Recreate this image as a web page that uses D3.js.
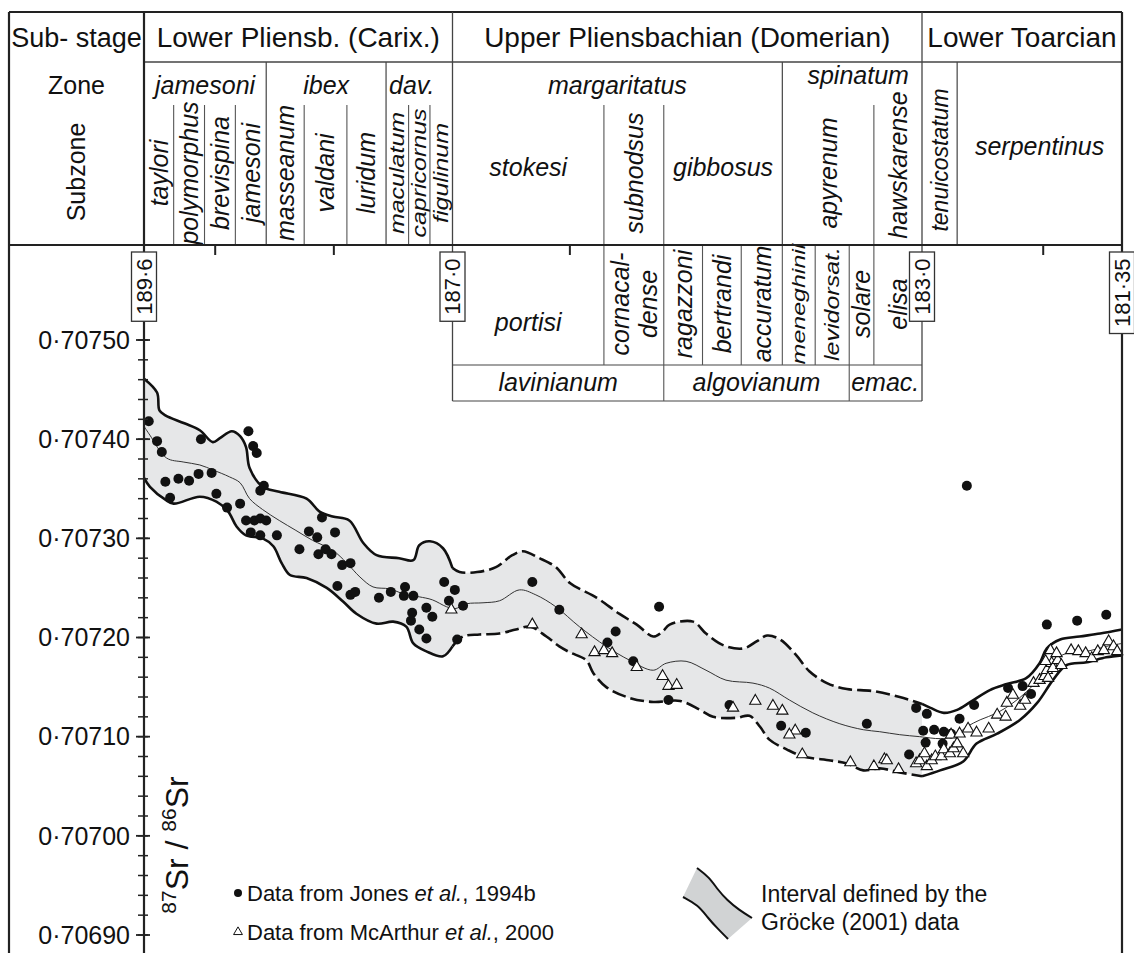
<!DOCTYPE html>
<html>
<head>
<meta charset="utf-8">
<script src="https://cdn.jsdelivr.net/npm/d3@7"></script>
<style>
  body { margin: 0; background: #fff; }
  text { font-family: "Liberation Sans", Arial, Helvetica, sans-serif; fill: #111; }
</style>
</head>
<body>
<div id="chart"></div>
<script>
// ---- data (ages in Ma, 87Sr/86Sr ratios) ----
const ageBreaks = [189.6, 187.0, 183.0, 181.35];
const ageBreakLabels = ["189·6", "187·0", "183·0", "181·35"];
const ageTicks = [189, 188, 186, 182];
const srMajor = [0.70690, 0.70700, 0.70710, 0.70720, 0.70730, 0.70740, 0.70750];
const srLabels = ["0·70690", "0·70700", "0·70710", "0·70720", "0·70730", "0·70740", "0·70750"];

const substages = [
  { name: "Lower Pliensb. (Carix.)", from: 189.6, to: 187.0 },
  { name: "Upper Pliensbachian (Domerian)", from: 187.0, to: 183.0 },
  { name: "Lower Toarcian", from: 183.0, to: 181.35 }
];
const zones = [
  { name: "jamesoni", from: 189.6, to: 188.57 },
  { name: "ibex", from: 188.57, to: 187.56 },
  { name: "dav.", from: 187.56, to: 187.0 },
  { name: "margaritatus", from: 187.0, to: 184.19 },
  { name: "spinatum", from: 184.19, to: 183.0 },
  { name: "tenuicostatum", from: 183.0, to: 182.71 },
  { name: "serpentinus", from: 182.71, to: 181.35 }
];
const subzones = [
  { name: "taylori", from: 189.6, to: 189.35 },
  { name: "polymorphus", from: 189.35, to: 189.09 },
  { name: "brevispina", from: 189.09, to: 188.83 },
  { name: "jamesoni", from: 188.83, to: 188.57 },
  { name: "masseanum", from: 188.57, to: 188.25 },
  { name: "valdani", from: 188.25, to: 187.89 },
  { name: "luridum", from: 187.89, to: 187.56 },
  { name: "maculatum", from: 187.56, to: 187.37 },
  { name: "capricornus", from: 187.37, to: 187.19 },
  { name: "figulinum", from: 187.19, to: 187.0 },
  { name: "stokesi", from: 187.0, to: 185.71 },
  { name: "subnodsus", from: 185.71, to: 185.20 },
  { name: "gibbosus", from: 185.20, to: 184.19 },
  { name: "apyrenum", from: 184.19, to: 183.41 },
  { name: "hawskarense", from: 183.41, to: 183.0 }
];
const horizons = [
  { name: "portisi", from: 187.0, to: 185.71 },
  { name: "cornacal-\ndense", from: 185.71, to: 185.20 },
  { name: "ragazzoni", from: 185.20, to: 184.87 },
  { name: "bertrandi", from: 184.87, to: 184.54 },
  { name: "accuratum", from: 184.54, to: 184.19 },
  { name: "meneghinii", from: 184.19, to: 183.91 },
  { name: "levidorsat.", from: 183.91, to: 183.62 },
  { name: "solare", from: 183.62, to: 183.41 },
  { name: "elisa", from: 183.41, to: 183.0 }
];
const domSubzones = [
  { name: "lavinianum", from: 187.0, to: 185.20 },
  { name: "algovianum", from: 185.20, to: 183.62 },
  { name: "emac.", from: 183.62, to: 183.0 }
];

const jones = [
  [189.56,0.707418],[189.49,0.707398],[189.45,0.707387],[189.42,0.707357],[189.38,0.707341],
  [189.31,0.707360],[189.22,0.707358],[189.14,0.707365],[189.12,0.707400],[189.03,0.707366],
  [188.99,0.707345],[188.90,0.707331],[188.79,0.707335],[188.72,0.707408],[188.68,0.707393],
  [188.65,0.707386],[188.62,0.707348],[188.59,0.707353],[188.74,0.707318],[188.67,0.707318],
  [188.62,0.707320],[188.57,0.707318],[188.70,0.707306],[188.62,0.707303],[188.48,0.707303],
  [188.29,0.707289],[188.21,0.707307],[188.14,0.707301],[188.10,0.707321],[188.13,0.707284],
  [188.07,0.707289],[188.02,0.707284],[187.99,0.707306],[187.93,0.707273],[187.86,0.707275],
  [187.97,0.707252],[187.86,0.707243],[187.82,0.707246],[187.62,0.707240],[187.52,0.707246],
  [187.40,0.707251],[187.41,0.707242],[187.33,0.707242],[187.34,0.707225],[187.35,0.707217],
  [187.28,0.707208],[187.22,0.707199],[187.22,0.707230],[187.17,0.707221],[187.07,0.707256],
  [186.98,0.707248],[187.03,0.707237],[186.91,0.707232],[186.96,0.707198],
  [186.32,0.707256],[186.09,0.707228],[185.24,0.707231],[185.61,0.707206],[185.68,0.707195],
  [185.46,0.707176],[185.16,0.707137],[184.64,0.707132],[184.20,0.707111],[183.99,0.707104],
  [183.47,0.707113],[183.05,0.707129],[183.11,0.707082],
  [182.96,0.707123],[182.99,0.707106],[182.90,0.707107],[182.82,0.707105],[182.97,0.707094],
  [182.83,0.707093],[182.76,0.707103],[182.69,0.707118],[182.57,0.707132],[182.29,0.707149],
  [182.17,0.707151],[182.10,0.707143],[181.97,0.707213],[181.72,0.707217],[181.48,0.707223],
  [182.63,0.707353]
];

const mcarthur = [
  [187.01,0.707228],[186.32,0.707213],[185.90,0.707203],[185.79,0.707185],[185.71,0.707187],
  [185.64,0.707184],[185.43,0.707170],[185.21,0.707161],[185.16,0.707151],[185.09,0.707152],
  [184.61,0.707129],[184.42,0.707136],[184.27,0.707131],[184.19,0.707126],[184.08,0.707106],
  [184.13,0.707102],[184.02,0.707082],[183.61,0.707074],[183.41,0.707070],[183.32,0.707077],
  [183.30,0.707076],[183.20,0.707067],[183.05,0.707073],[183.02,0.707076],
  [182.98,0.707083],[182.96,0.707070],[182.92,0.707076],[182.89,0.707080],[182.84,0.707080],
  [182.82,0.707087],[182.77,0.707083],[182.74,0.707088],[182.71,0.707093],[182.66,0.707083],
  [182.76,0.707102],[182.69,0.707103],[182.62,0.707108],[182.55,0.707104],[182.45,0.707108],
  [182.38,0.707122],[182.31,0.707120],[182.30,0.707134],[182.25,0.707142],[182.19,0.707131],
  [182.15,0.707137],[182.08,0.707154],[182.03,0.707157],[181.99,0.707161],[181.97,0.707167],
  [181.93,0.707174],[181.92,0.707169],[181.88,0.707177],[181.85,0.707172],[181.94,0.707187],
  [181.89,0.707184],[181.77,0.707187],[181.71,0.707186],[181.65,0.707184],[181.60,0.707179],
  [181.55,0.707186],[181.50,0.707187],[181.46,0.707196],[181.42,0.707191],[181.39,0.707186],
  [181.98,0.707176],[181.96,0.707159]
];

// Grocke (2001) envelope: upper edge, lower edge, and mean curve
const bandUpper = [
  [189.60,0.707461],[189.49,0.707447],[189.47,0.707429],[189.42,0.707424],[189.26,0.707416],
  [189.13,0.707409],[189.02,0.707397],[188.96,0.707401],[188.86,0.707408],[188.79,0.707403],
  [188.74,0.707392],[188.71,0.707371],[188.60,0.707352],[188.46,0.707347],[188.23,0.707340],
  [188.12,0.707327],[188.01,0.707322],[187.87,0.707318],[187.75,0.707295],[187.64,0.707283],
  [187.45,0.707280],[187.33,0.707278],[187.28,0.707293],[187.19,0.707297],[187.08,0.707290],
  [187.00,0.707270],
  [186.94,0.707266],[186.79,0.707266],[186.63,0.707271],[186.49,0.707283],[186.40,0.707287],
  [186.26,0.707280],[186.12,0.707271],[186.00,0.707255],[185.77,0.707240],[185.58,0.707224],
  [185.43,0.707213],[185.29,0.707201],[185.21,0.707206],[185.15,0.707213],[184.95,0.707216],
  [184.84,0.707204],[184.69,0.707192],[184.52,0.707189],[184.41,0.707196],[184.32,0.707202],
  [184.21,0.707198],[184.07,0.707182],[183.96,0.707166],[183.81,0.707154],[183.64,0.707148],
  [183.42,0.707146],[183.19,0.707140],[183.00,0.707133],
  [182.93,0.707129],[182.82,0.707124],[182.71,0.707127],[182.60,0.707135],[182.44,0.707147],
  [182.30,0.707153],[182.14,0.707159],[182.03,0.707174],[181.97,0.707189],[181.86,0.707198],
  [181.70,0.707201],[181.53,0.707204],[181.35,0.707208]
];
const bandLower = [
  [189.60,0.707361],[189.55,0.707352],[189.42,0.707339],[189.35,0.707335],[189.13,0.707342],
  [188.99,0.707337],[188.89,0.707327],[188.82,0.707312],[188.74,0.707303],[188.60,0.707300],
  [188.51,0.707292],[188.44,0.707275],[188.37,0.707263],[188.23,0.707260],[188.06,0.707250],
  [187.92,0.707236],[187.81,0.707224],[187.64,0.707214],[187.50,0.707216],[187.39,0.707211],
  [187.33,0.707194],[187.22,0.707186],[187.08,0.707181],[187.00,0.707191],
  [186.91,0.707201],[186.77,0.707203],[186.60,0.707204],[186.46,0.707208],[186.34,0.707211],
  [186.20,0.707201],[186.09,0.707191],[186.00,0.707185],[185.86,0.707177],[185.80,0.707164],
  [185.69,0.707150],[185.49,0.707139],[185.29,0.707135],[185.06,0.707136],[184.89,0.707127],
  [184.78,0.707120],[184.58,0.707119],[184.47,0.707121],[184.38,0.707110],[184.30,0.707097],
  [184.15,0.707087],[184.01,0.707080],[183.78,0.707076],[183.64,0.707073],[183.50,0.707066],
  [183.36,0.707068],[183.19,0.707064],[183.00,0.707060],
  [182.85,0.707066],[182.66,0.707075],[182.55,0.707093],[182.38,0.707103],[182.19,0.707117],
  [182.05,0.707134],[181.92,0.707157],[181.81,0.707172],[181.64,0.707175],[181.48,0.707180],
  [181.35,0.707182]
];
const bandMid = [
  [189.60,0.707413],[189.55,0.707404],[189.41,0.707381],[189.27,0.707377],[189.13,0.707374],
  [189.02,0.707369],[188.88,0.707362],[188.79,0.707356],[188.71,0.707340],[188.60,0.707329],
  [188.46,0.707318],[188.32,0.707308],[188.18,0.707298],[188.01,0.707288],[187.89,0.707275],
  [187.78,0.707261],[187.67,0.707251],[187.53,0.707249],[187.39,0.707243],[187.28,0.707241],
  [187.17,0.707238],[187.05,0.707231],[186.98,0.707229],[186.88,0.707234],[186.74,0.707235],
  [186.60,0.707237],[186.43,0.707248],[186.29,0.707243],[186.12,0.707231],[185.92,0.707211],
  [185.69,0.707191],[185.49,0.707177],[185.29,0.707167],[185.18,0.707174],[185.01,0.707176],
  [184.84,0.707167],[184.67,0.707157],[184.44,0.707154],[184.30,0.707149],[184.13,0.707137],
  [183.93,0.707124],[183.70,0.707113],[183.50,0.707107],[183.36,0.707105],[183.19,0.707102],
  [183.02,0.707100],[182.85,0.707098],[182.74,0.707100],[182.63,0.707110],[182.52,0.707117],
  [182.38,0.707124],[182.25,0.707134],[182.14,0.707145],[182.03,0.707159],[181.94,0.707174],
  [181.81,0.707184],[181.64,0.707186],[181.48,0.707191],[181.35,0.707194]
];

// ---- layout ----
const W = 1134, H = 953;
const frameL = 9, frameT = 12, row1B = 62, subTop = 105, headB = 245, boxMid = 365, boxB = 401;

const svg = d3.select("#chart").append("svg")
  .attr("width", W).attr("height", H)
  .style("background-color", "#fff");

const x = d3.scaleLinear().domain(ageBreaks).range([144, 452.5, 922, 1122]);
const y = d3.scaleLinear().domain([0.70690, 0.70750]).range([935, 340]);

const line = d3.line()
  .x(d => x(d[0]))
  .y(d => y(d[1]))
  .curve(d3.curveCatmullRom.alpha(0.5));
const seg = (arr, hi, lo) => arr.filter(d => d[0] <= hi + 1e-9 && d[0] >= lo - 1e-9);

// envelope fill (Pliensbachian part only)
const fillUp = seg(bandUpper, 189.6, 183.0);
const fillLo = seg(bandLower, 189.6, 183.0).slice().reverse();
svg.append("path")
  .attr("d", line(fillUp) + "L" + line(fillLo).slice(1) + "Z")
  .attr("fill", "#e6e7e8")
  .attr("stroke", "none");

// envelope edges
const parts = [
  { hi: 189.6, lo: 187.0, dash: null },
  { hi: 187.0, lo: 183.0, dash: "14,5" },
  { hi: 183.0, lo: 181.35, dash: null }
];
parts.forEach(p => {
  [bandUpper, bandLower].forEach(b => {
    svg.append("path")
      .attr("d", line(seg(b, p.hi, p.lo)))
      .attr("fill", "none")
      .attr("stroke", "#111")
      .attr("stroke-width", 2.6)
      .attr("stroke-dasharray", p.dash);
  });
});
svg.append("path")
  .attr("d", line(bandMid))
  .attr("fill", "none")
  .attr("stroke", "#333")
  .attr("stroke-width", 1);

// data points
svg.append("g").selectAll("circle")
  .data(jones)
  .enter().append("circle")
  .attr("cx", d => x(d[0]))
  .attr("cy", d => y(d[1]))
  .attr("r", 5)
  .attr("fill", "#111");

const tri = d3.symbol().type(d3.symbolTriangle).size(55);
svg.append("g").selectAll("path")
  .data(mcarthur)
  .enter().append("path")
  .attr("d", tri)
  .attr("transform", d => `translate(${x(d[0])},${y(d[1])})`)
  .attr("fill", "#fff")
  .attr("stroke", "#111")
  .attr("stroke-width", 1.1);

// ---- header table ----
const hdr = svg.append("g");
const vline = (xp, y1, y2, w, c) => hdr.append("line")
  .attr("x1", xp).attr("x2", xp).attr("y1", y1).attr("y2", y2)
  .attr("stroke", c || "#444").attr("stroke-width", w || 1.2);
const hline = (x1, x2, yp, w, c) => hdr.append("line")
  .attr("x1", x1).attr("x2", x2).attr("y1", yp).attr("y2", yp)
  .attr("stroke", c || "#444").attr("stroke-width", w || 1.2);

const xEnd = x(181.35);
hline(frameL, xEnd, frameT, 2.2, "#222");
hline(x(189.6), xEnd, row1B, 1.3);
vline(frameL, frameT, H, 2.2, "#222");
vline(xEnd, frameT, H, 2.2, "#222");

const stageEdges = [187.0, 183.0];
stageEdges.forEach(a => vline(x(a), frameT, boxB, 1.3));
zones.forEach(z => {
  if (z.from < 189.6 && !stageEdges.includes(z.from)) vline(x(z.from), row1B, headB, 1.2);
});
const zoneEdges = zones.map(z => z.from);
subzones.forEach(s => {
  if (!zoneEdges.includes(s.from)) vline(x(s.from), subTop, headB, 1.1, "#555");
});

// lower Domerian box
hline(x(187.0), x(183.0), boxMid, 1.2);
hline(x(187.0), x(183.0), boxB, 1.2);
horizons.forEach(h => { if (h.from < 187.0) vline(x(h.from), headB, boxMid, 1.1, "#555"); });
domSubzones.forEach(s => { if (s.from < 187.0) vline(x(s.from), boxMid, boxB, 1.1, "#555"); });

// header labels
hdr.append("text").attr("x", (frameL + x(189.6)) / 2).attr("y", 47)
  .attr("text-anchor", "middle").style("font-size", "27px").text("Sub- stage");
hdr.append("text").attr("x", (frameL + x(189.6)) / 2).attr("y", 94)
  .attr("text-anchor", "middle").style("font-size", "25px").text("Zone");
hdr.append("text").attr("transform", `translate(${(frameL + x(189.6)) / 2},172) rotate(-90)`)
  .attr("dy", "0.35em").attr("text-anchor", "middle").style("font-size", "25px").text("Subzone");

substages.forEach(s => {
  hdr.append("text")
    .attr("x", (x(s.from) + x(s.to)) / 2).attr("y", 47)
    .attr("text-anchor", "middle").style("font-size", "28px").text(s.name);
});

function rotLabel(name, cx, cy, size, squeeze) {
  const lines = name.split("\n");
  lines.forEach((ln, i) => {
    const off = (i - (lines.length - 1) / 2) * 28;
    hdr.append("text")
      .attr("transform", `translate(${cx + off},${cy}) rotate(-90) scale(1,${squeeze || 1})`)
      .attr("dy", "0.35em")
      .attr("text-anchor", "middle")
      .style("font-size", size + "px")
      .style("font-style", "italic")
      .text(ln);
  });
}
function flatLabel(name, cx, by, size, anchor) {
  hdr.append("text")
    .attr("x", cx).attr("y", by)
    .attr("text-anchor", anchor || "middle")
    .style("font-size", size + "px")
    .style("font-style", "italic")
    .text(name);
}

zones.forEach(z => {
  const cx = (x(z.from) + x(z.to)) / 2;
  if (z.name === "dav.") flatLabel(z.name, x(z.from) + 3, 94, 25, "start");
  else if (z.name === "spinatum") flatLabel(z.name, cx + 6, 84, 25);
  else if (z.name === "tenuicostatum") rotLabel(z.name, cx, 160, 23);
  else if (z.name === "serpentinus") flatLabel(z.name, cx, 155, 25);
  else flatLabel(z.name, cx, 94, 25);
});

const flatSubzones = ["stokesi", "gibbosus"];
const squeezeMap = { maculatum: 0.8, capricornus: 0.8, figulinum: 0.8, meneghinii: 0.7, "levidorsat.": 0.8 };
subzones.forEach(s => {
  const cx = (x(s.from) + x(s.to)) / 2;
  if (flatSubzones.includes(s.name)) flatLabel(s.name, cx, 176, 25);
  else rotLabel(s.name, cx, s.name === "hawskarense" ? 165 : 173, 25, squeezeMap[s.name]);
});
horizons.forEach(h => {
  const cx = (x(h.from) + x(h.to)) / 2;
  if (h.name === "portisi") flatLabel(h.name, cx, 331, 25);
  else rotLabel(h.name, cx, 304, 25, squeezeMap[h.name]);
});
domSubzones.forEach(s => {
  const cx = (x(s.from) + x(s.to)) / 2;
  if (s.name === "emac.") flatLabel(s.name, x(s.from) + 2, 391, 25, "start");
  else flatLabel(s.name, cx, 391, 25);
});

// header bottom / top of time axis
hline(frameL, xEnd, headB, 2.2, "#222");
hdr.selectAll(".xtick")
  .data(ageTicks)
  .enter().append("line")
  .attr("x1", d => x(d)).attr("x2", d => x(d))
  .attr("y1", headB).attr("y2", headB + 10)
  .attr("stroke", "#222").attr("stroke-width", 2);

// ---- y axis ----
const ax = svg.append("g");
const x0 = x(189.6);
ax.append("line").attr("x1", x0).attr("x2", x0).attr("y1", frameT).attr("y2", H)
  .attr("stroke", "#222").attr("stroke-width", 2.2);
const srMinor = d3.range(0, 32).map(i => 0.70690 + i * 0.00002);
ax.selectAll(".minor")
  .data(srMinor)
  .enter().append("line")
  .attr("x1", x0 - 6).attr("x2", x0 + 4)
  .attr("y1", d => y(d)).attr("y2", d => y(d))
  .attr("stroke", "#222").attr("stroke-width", 1.5);
ax.selectAll(".major")
  .data(srMajor)
  .enter().append("line")
  .attr("x1", x0 - 8).attr("x2", x0 + 6)
  .attr("y1", d => y(d)).attr("y2", d => y(d))
  .attr("stroke", "#222").attr("stroke-width", 1.8);
ax.selectAll(".lab")
  .data(srMajor)
  .enter().append("text")
  .attr("x", x0 - 14)
  .attr("y", d => y(d))
  .attr("dy", "0.35em")
  .attr("text-anchor", "end")
  .style("font-size", "25px")
  .text((d, i) => srLabels[i]);

// y axis title
const yt = ax.append("text")
  .attr("transform", "translate(188,845) rotate(-90)")
  .attr("text-anchor", "middle")
  .style("font-size", "32px");
yt.append("tspan").style("font-size", "21px").attr("dy", -12).text("87");
yt.append("tspan").attr("dy", 12).text("Sr / ");
yt.append("tspan").style("font-size", "21px").attr("dy", -12).text("86");
yt.append("tspan").attr("dy", 12).text("Sr");

// ---- age boxes ----
ageBreaks.forEach((a, i) => {
  const g = svg.append("g");
  const t = g.append("text")
    .attr("text-anchor", "middle")
    .attr("dy", "0.35em")
    .style("font-size", "22px")
    .text(ageBreakLabels[i]);
  const len = t.node().getComputedTextLength();
  const top = 252, h = len + 13, cx = x(a);
  g.insert("rect", "text")
    .attr("x", cx - 12.5).attr("y", top)
    .attr("width", 25).attr("height", h)
    .attr("fill", "#fff").attr("stroke", "#333").attr("stroke-width", 1.3);
  t.attr("transform", `translate(${cx},${top + h / 2}) rotate(-90)`);
});

// ---- legend ----
const lg = svg.append("g");
lg.append("circle").attr("cx", 238).attr("cy", 893).attr("r", 4).attr("fill", "#111");
const l1 = lg.append("text").attr("x", 247).attr("y", 901).style("font-size", "22px");
l1.append("tspan").text("Data from Jones ");
l1.append("tspan").style("font-style", "italic").text("et al.");
l1.append("tspan").text(", 1994b");

lg.append("path")
  .attr("d", d3.symbol().type(d3.symbolTriangle).size(34)())
  .attr("transform", "translate(238,932)")
  .attr("fill", "#fff").attr("stroke", "#111").attr("stroke-width", 1);
const l2 = lg.append("text").attr("x", 247).attr("y", 940).style("font-size", "22px");
l2.append("tspan").text("Data from McArthur ");
l2.append("tspan").style("font-style", "italic").text("et al.");
l2.append("tspan").text(", 2000");

// envelope swatch
const sw = lg.append("g").attr("transform", "translate(683,868)");
const swLine = d3.line().curve(d3.curveBasis);
const edgeA = [[14, 0], [26, 9], [35, 22], [44, 32], [56, 42], [69, 50]];
const edgeB = [[0, 29], [15, 37], [25, 50], [34, 60], [45, 71]];
sw.append("path")
  .attr("d", swLine(edgeA) + "L" + swLine(edgeB.slice().reverse()).slice(1) + "Z")
  .attr("fill", "#d1d3d4").attr("stroke", "none");
sw.append("path").attr("d", swLine(edgeA)).attr("fill", "none").attr("stroke", "#111").attr("stroke-width", 2);
sw.append("path").attr("d", swLine(edgeB)).attr("fill", "none").attr("stroke", "#111").attr("stroke-width", 2);
lg.append("text").attr("x", 761).attr("y", 902).style("font-size", "23px").text("Interval defined by the");
lg.append("text").attr("x", 761).attr("y", 930).style("font-size", "23px").text("Gröcke (2001) data");
</script>
</body>
</html>
